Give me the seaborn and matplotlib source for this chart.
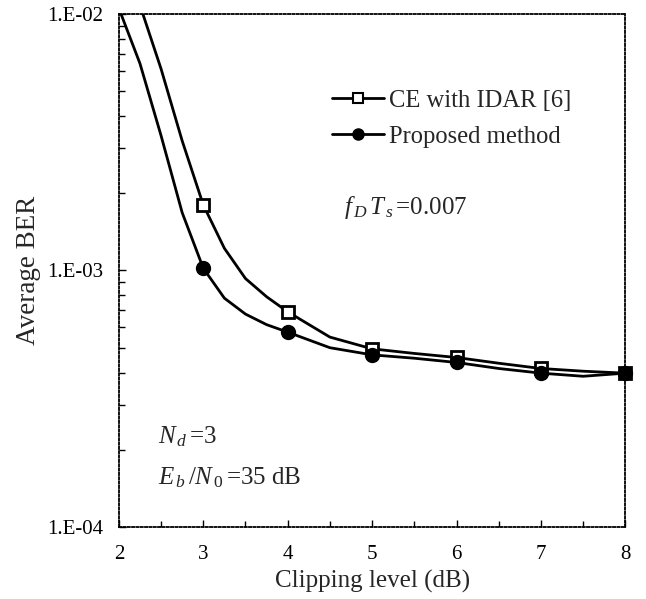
import matplotlib
matplotlib.use("Agg")
import matplotlib.pyplot as plt
import matplotlib.ticker as mticker
from matplotlib.lines import Line2D
import seaborn as sns
import pandas as pd

# curve points (line only)
line_x = [2.0, 2.25, 2.5, 2.75, 3.0, 3.25, 3.5, 3.75, 4.0, 4.5, 5.0, 5.5, 6.0, 6.5, 7.0, 7.5, 8.0]
ce_line = [2.0e-2, 1.08e-2, 6.1e-3, 3.2e-3, 1.80e-3, 1.22e-3, 9.3e-4, 7.9e-4, 6.9e-4,
           5.5e-4, 4.95e-4, 4.75e-4, 4.58e-4, 4.35e-4, 4.15e-4, 4.05e-4, 3.98e-4]
prop_line = [1.05e-2, 6.4e-3, 3.35e-3, 1.68e-3, 1.02e-3, 7.8e-4, 6.76e-4, 6.15e-4, 5.75e-4,
             5.0e-4, 4.69e-4, 4.55e-4, 4.38e-4, 4.15e-4, 3.98e-4, 3.87e-4, 3.98e-4]

# marker points
mark_x = [3, 4, 5, 6, 7, 8]
ce_mark = [1.80e-3, 6.9e-4, 4.95e-4, 4.6e-4, 4.15e-4, 3.98e-4]
prop_mark = [1.02e-3, 5.75e-4, 4.7e-4, 4.38e-4, 3.98e-4, 3.98e-4]

sns.set_style("white")
plt.rcParams["font.family"] = ["Liberation Serif", "DejaVu Serif"]
plt.rcParams["mathtext.fontset"] = "custom"
plt.rcParams["mathtext.rm"] = "Liberation Serif"
plt.rcParams["mathtext.it"] = "Liberation Serif:italic"

fig = plt.figure(figsize=(6.46, 5.99), dpi=100)
ax = fig.add_axes([0.184, 0.120, 0.784, 0.857])

df_line = pd.DataFrame({"x": line_x, "ce": ce_line, "prop": prop_line})
df_mark = pd.DataFrame({"x": mark_x, "ce": ce_mark, "prop": prop_mark})

sns.lineplot(data=df_line, x="x", y="ce", color="black", lw=2, ax=ax)
sns.lineplot(data=df_line, x="x", y="prop", color="black", lw=2, ax=ax)
ax.plot(df_mark["x"], df_mark["ce"], ls="none", marker="s", ms=9, mfc="white",
        mec="black", mew=2, zorder=5, clip_on=False)
ax.plot(df_mark["x"], df_mark["prop"], ls="none", marker="o", ms=10, color="black",
        zorder=5, clip_on=False)

ax.set_yscale("log")
ax.set_xlim(2, 8)
ax.set_ylim(1e-4, 1e-2)
ax.set_xticks(range(2, 9))
ax.xaxis.set_minor_locator(mticker.MultipleLocator(0.5))
ax.yaxis.set_major_locator(mticker.FixedLocator([1e-4, 1e-3, 1e-2]))
ax.yaxis.set_major_formatter(mticker.FixedFormatter(["1.E-04", "1.E-03", "1.E-02"]))
ax.yaxis.set_minor_locator(mticker.LogLocator(base=10, subs=range(2, 10)))
ax.yaxis.set_minor_formatter(mticker.NullFormatter())

ax.tick_params(axis="both", which="both", direction="in", bottom=True, left=True,
               top=False, right=False, labelsize=15, colors="black")
ax.tick_params(axis="both", which="major", length=5, width=1)
ax.tick_params(axis="both", which="minor", length=4, width=1)
ax.tick_params(axis="x", which="major", pad=13)
ax.tick_params(axis="y", which="major", pad=11)

for s in ax.spines.values():
    s.set_linestyle((0, (1.2, 1.2)))
    s.set_linewidth(1.3)
    s.set_color("black")

ax.set_xlabel("Clipping level (dB)", fontsize=18, labelpad=4)
ax.set_ylabel("Average BER", fontsize=19.5, labelpad=5)

handles = [
    Line2D([], [], color="black", lw=2, marker="s", ms=7, mfc="white", mec="black", mew=1.5),
    Line2D([], [], color="black", lw=2, marker="o", ms=8),
]
ax.legend(handles, ["CE with IDAR [6]", "Proposed method"], loc="upper left",
          bbox_to_anchor=(0.378, 0.895), frameon=False, fontsize=17.7,
          handlelength=2.1, handletextpad=0.2, labelspacing=0.55)

ax.text(0.445, 0.61, r"$f_{\,D}\,T_{\,s}\,$=0.007", transform=ax.transAxes, fontsize=18)
ax.text(0.078, 0.163, r"$N_{\,d}\,$=3", transform=ax.transAxes, fontsize=18)
ax.text(0.078, 0.083, r"$E_{\,b}\,/N_{\,0}\,$=35 dB", transform=ax.transAxes, fontsize=18)

fig.savefig("out.png", dpi=100)
